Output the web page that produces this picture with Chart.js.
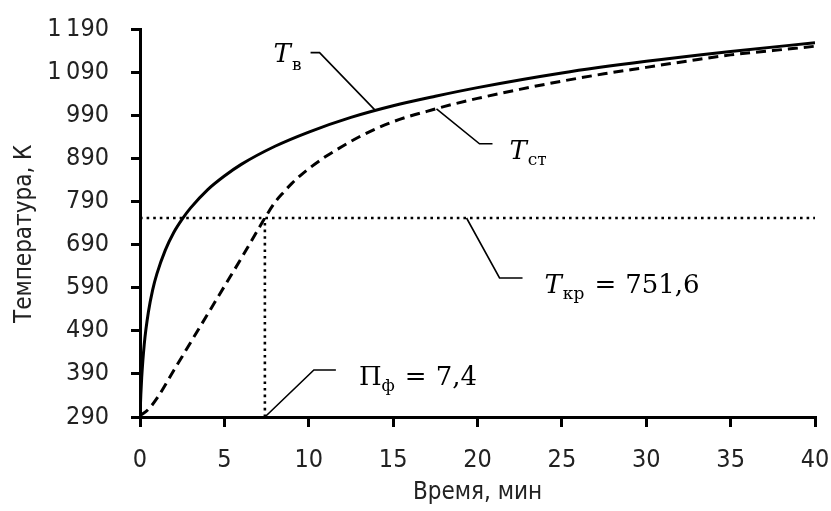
<!DOCTYPE html>
<html>
<head>
<meta charset="utf-8">
<script src="https://cdn.jsdelivr.net/npm/chart.js@4.4.1/dist/chart.umd.min.js"></script>
<style>
  html, body { margin: 0; padding: 0; background: #fff; }
</style>
</head>
<body>
<canvas id="canvas" width="831" height="511"></canvas>
<script>
// gas temperature T_в (solid)
var gasTime = [0, 0.05, 0.1, 0.25, 0.5, 0.75, 1, 1.5, 2, 2.5, 3, 4, 5, 6, 8, 10, 12.5, 15, 17.5, 20, 25, 30, 35, 40];
var gasTemp = [293, 343, 381, 458, 534, 585, 622, 677, 718, 749, 775, 817, 849, 876, 918, 951, 985, 1012, 1034, 1054, 1088, 1115, 1138, 1158];

// steel temperature T_ст (dashed)
var steelTime = [0, 0.5, 1, 2, 3, 4, 5, 6, 7, 7.4, 8, 8.5, 9, 9.5, 10, 11, 12, 13, 14, 15, 16, 17, 18, 20, 22.5, 25, 27.5, 30, 32.5, 35, 37.5, 40];
var steelTemp = [293, 308, 333, 398, 463, 528, 593, 658, 725, 751.6, 788, 811, 832, 850, 866, 894, 918, 940, 959, 975, 988, 999, 1010, 1029, 1050, 1069, 1086, 1101, 1116, 1130, 1140, 1150];

var critTemp = 751.6;   // T_кр
var critTime = 7.4;     // П_ф

var xTickValues = [0, 5, 10, 15, 20, 25, 30, 35, 40];
var yTickValues = [290, 390, 490, 590, 690, 790, 890, 990, 1090, 1190];
var yTickLabels = ['290', '390', '490', '590', '690', '790', '890', '990', '1\u202F090', '1\u202F190'];

function toPoints(xs, ys) {
    return xs.map(function (x, i) { return { x: x, y: ys[i] }; });
}

var tickFont = { family: "'DejaVu Sans Condensed', 'Liberation Sans', sans-serif", size: 25, lineHeight: 1 };
var titleFont = { family: "'DejaVu Sans Condensed', 'Liberation Sans', sans-serif", size: 24, lineHeight: 1 };
var mathFont = "'DejaVu Serif', 'Liberation Serif', serif";

// leader lines + labels, anchored on data points, offsets in px
// part: [text, kind, subscript drop or gap before]
var notes = [
    { x: 13.9, y: 1003, path: [[-55, -57], [-64, -57]], tx: -101, ty: -48, parts: [['T', 'i'], ['в', 's', 8]] },
    { x: 17.57, y: 1005, path: [[43, 35], [56, 35]], tx: 73, ty: 50, parts: [['T', 'i'], ['ст', 's', 6]] },
    { x: 19.35, y: critTemp, path: [[33, 60], [56, 60]], tx: 78, ty: 75, parts: [['T', 'i'], ['кр', 's', 6], ['=', 'n', 10], ['751,6', 'n', 9]] },
    { x: critTime, y: 290, path: [[49, -47], [71, -47]], tx: 94, ty: -32, parts: [['П', 'n'], ['ф', 's', 6], ['=', 'n', 10], ['7,4', 'n', 9]] }
];

var notesPlugin = {
    id: 'notes',
    afterDatasetsDraw: function (chart) {
        var ctx = chart.ctx;
        var xs = chart.scales.x, ys = chart.scales.y;
        ctx.save();
        notes.forEach(function (n) {
            var ax = xs.getPixelForValue(n.x);
            var ay = ys.getPixelForValue(n.y);
            ctx.strokeStyle = '#000';
            ctx.lineWidth = 1.6;
            ctx.beginPath();
            ctx.moveTo(ax, ay);
            n.path.forEach(function (p) { ctx.lineTo(ax + p[0], ay + p[1]); });
            ctx.stroke();

            var cx = ax + n.tx;
            var base = ay + n.ty;
            ctx.fillStyle = '#000';
            ctx.textBaseline = 'alphabetic';
            ctx.textAlign = 'left';
            n.parts.forEach(function (p) {
                var dy = 0;
                if (p[1] === 'i') ctx.font = 'italic 26px ' + mathFont;
                else if (p[1] === 's') { ctx.font = '17px ' + mathFont; dy = p[2]; }
                else { ctx.font = '26px ' + mathFont; cx += p[2] || 0; }
                ctx.fillText(p[0], cx, base + dy);
                cx += ctx.measureText(p[0]).width + (p[1] === 'i' ? 1 : 0);
            });
        });
        ctx.restore();
    }
};

// drop the label overflow padding so the plot box sits where the layout padding puts it
function noOverflow(scale) {
    scale.paddingLeft = 0;
    scale.paddingRight = 0;
    scale.paddingTop = 0;
    scale.paddingBottom = 0;
}

var config = {
    type: 'line',
    data: {
        datasets: [
            {
                label: 'T_в',
                data: toPoints(gasTime, gasTemp),
                borderColor: '#000',
                borderWidth: 3,
                pointRadius: 0,
                cubicInterpolationMode: 'monotone'
            },
            {
                label: 'T_ст',
                data: toPoints(steelTime, steelTemp),
                borderColor: '#000',
                borderWidth: 3,
                borderDash: [10, 6],
                pointRadius: 0,
                cubicInterpolationMode: 'monotone'
            },
            {
                label: 'T_кр',
                data: [{ x: xTickValues[0], y: critTemp }, { x: xTickValues[xTickValues.length - 1], y: critTemp }],
                borderColor: '#000',
                borderWidth: 2.6,
                borderDash: [2.6, 4],
                pointRadius: 0
            },
            {
                label: 'П_ф',
                data: [{ x: critTime, y: yTickValues[0] }, { x: critTime, y: critTemp }],
                borderColor: '#000',
                borderWidth: 2.6,
                borderDash: [2.6, 4],
                pointRadius: 0
            }
        ]
    },
    options: {
        responsive: false,
        animation: false,
        devicePixelRatio: 1,
        layout: { padding: { left: 0, right: 16, top: 29, bottom: 0 } },
        plugins: {
            legend: { display: false },
            tooltip: { enabled: false }
        },
        scales: {
            x: {
                type: 'linear',
                min: 0,
                max: 40,
                afterBuildTicks: function (scale) {
                    scale.ticks = xTickValues.map(function (v) { return { value: v }; });
                },
                afterFit: function (scale) { scale.height = 94; noOverflow(scale); },
                border: { display: true, color: '#000', width: 3 },
                grid: { drawOnChartArea: false, drawTicks: true, tickLength: 10, color: '#000', lineWidth: 3 },
                ticks: { color: '#222', font: tickFont, padding: 21, maxRotation: 0 },
                title: { display: true, text: 'Время, мин', color: '#222', font: titleFont, padding: { top: 0, bottom: 6 } }
            },
            y: {
                min: 290,
                max: 1190,
                afterBuildTicks: function (scale) {
                    scale.ticks = yTickValues.map(function (v) { return { value: v }; });
                },
                afterFit: function (scale) { scale.width = 140; noOverflow(scale); },
                border: { display: true, color: '#000', width: 3 },
                grid: { drawOnChartArea: false, drawTicks: true, tickLength: 9, color: '#000', lineWidth: 3 },
                ticks: {
                    color: '#222',
                    font: tickFont,
                    padding: 22,
                    callback: function (value, index) { return yTickLabels[index]; }
                },
                title: { display: true, text: 'Температура, К\u2003', color: '#222', font: titleFont, padding: { top: 13, bottom: 0 } }
            }
        }
    },
    plugins: [notesPlugin]
};

function start() {
    var ctx = document.getElementById('canvas').getContext('2d');
    new Chart(ctx, config);
}
start();
</script>
</body>
</html>
